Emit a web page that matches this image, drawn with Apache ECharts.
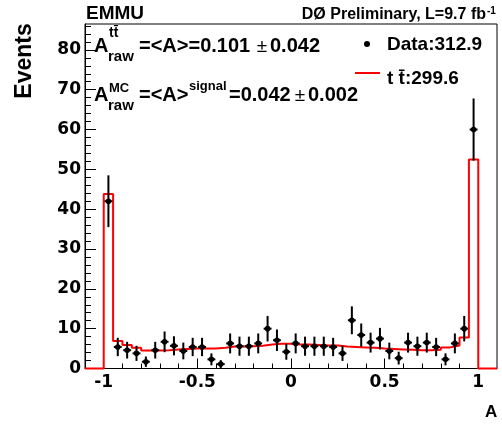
<!DOCTYPE html>
<html><head><meta charset="utf-8">
<script src="https://cdn.jsdelivr.net/npm/echarts@6/dist/echarts.min.js"></script>
<style>html,body{margin:0;padding:0;background:#fff}#c{width:502px;height:425px}</style>
</head><body><div id="c"></div>
<script>
// ---- data ----
const histMin = -1.1, histMax = 1.1;          // axis range
const binLowEdge = -1.0, binWidth = 0.05;      // 40 bins from -1 to 1
const dataValues = [42.0, 5.4, 4.6, 3.8, 1.7, 4.6, 6.7, 5.7, 4.4, 5.4,
                    5.4, 2.3, 1.1, 6.3, 5.6, 5.6, 6.3, 10.0, 7.1, 4.2,
                    6.3, 5.6, 5.6, 5.6, 5.4, 3.8, 12.1, 8.4, 6.5, 7.5,
                    4.4, 2.6, 6.5, 5.6, 6.5, 5.4, 2.3, 6.3, 10.0, 60.0];
const dataErrors = [6.5, 2.3, 2.1, 1.9, 1.3, 2.1, 2.6, 2.4, 2.1, 2.3,
                    2.3, 1.5, 1.0, 2.5, 2.4, 2.4, 2.5, 3.2, 2.7, 2.0,
                    2.5, 2.4, 2.4, 2.4, 2.3, 1.9, 3.5, 2.9, 2.5, 2.7,
                    2.1, 1.6, 2.5, 2.4, 2.5, 2.3, 1.5, 2.5, 3.2, 7.8];
const mcValues = [43.8, 6.9, 5.9, 5.2, 4.5, 4.5, 4.6, 4.8, 4.9, 5.0,
                  5.0, 5.0, 5.2, 5.5, 5.5, 5.6, 5.7, 6.0, 6.2, 6.2,
                  6.0, 6.0, 5.9, 5.8, 5.8, 5.5, 5.4, 5.3, 5.2, 5.0,
                  4.9, 4.8, 4.7, 4.6, 4.6, 4.7, 5.3, 5.8, 7.8, 52.5];
const xErrHalf = 0.021;
const xMajorTicks = [-1, -0.5, 0, 0.5, 1];
const xMinorTicks = [-0.9, -0.8, -0.7, -0.6, -0.4, -0.3, -0.2, -0.1, 0.1, 0.2, 0.3, 0.4, 0.6, 0.7, 0.8, 0.9];
const yMin = 0, yMax = 86.5;
const yMajorTicks = [0, 10, 20, 30, 40, 50, 60, 70, 80];
const yMinorTicks = [2, 4, 6, 8, 12, 14, 16, 18, 22, 24, 26, 28, 32, 34, 36, 38, 42, 44, 46, 48,
                     52, 54, 56, 58, 62, 64, 66, 68, 72, 74, 76, 78, 82, 84, 86];

// ---- build library inputs ----
const pointData = dataValues.map((v, i) => [binLowEdge + (i + 0.5) * binWidth, v, dataErrors[i]]);
const stepData = [[histMin, 0]];
mcValues.forEach((v, i) => stepData.push([binLowEdge + i * binWidth, v]));
stepData.push([binLowEdge + mcValues.length * binWidth, 0]);
stepData.push([histMax, 0]);

const LIB = '"Liberation Sans", Arial, sans-serif';
const DJV = '"DejaVu Sans", sans-serif';
const chart = echarts.init(document.getElementById('c'), null, {renderer: 'canvas'});

function txt(x, y, text, size, opts) {
  opts = opts || {};
  return {type: 'text', x: x, y: y, z: 100,
    style: {text: text, fill: '#000', align: opts.align || 'left', verticalAlign: 'middle',
      font: (opts.weight || 'bold') + ' ' + size + 'px ' + (opts.family || LIB)}};
}

chart.setOption({
  animation: false,
  grid: {left: 85, right: 5, top: 24, bottom: 56.5, show: true, borderColor: '#000', borderWidth: 1, backgroundColor: 'transparent'},
  xAxis: [{
    type: 'value', min: histMin, max: histMax, position: 'bottom',
    axisLine: {show: true, onZero: false, lineStyle: {color: '#000', width: 1}},
    axisTick: {show: true, inside: true, length: 10, customValues: xMajorTicks, lineStyle: {color: '#000'}},
    axisLabel: {show: true, customValues: xMajorTicks, margin: 6, color: '#000', fontFamily: DJV, fontWeight: 'bold', fontSize: 17,
      formatter: v => String(v)},
    splitLine: {show: false}
  }, {
    type: 'value', min: histMin, max: histMax, position: 'bottom',
    axisLine: {show: false, onZero: false},
    axisTick: {show: true, inside: true, length: 5, customValues: xMinorTicks, lineStyle: {color: '#000'}},
    axisLabel: {show: false}, splitLine: {show: false}
  }],
  yAxis: [{
    type: 'value', min: yMin, max: yMax, position: 'left',
    axisLine: {show: true, onZero: false, lineStyle: {color: '#000', width: 1}},
    axisTick: {show: true, inside: true, length: 11, customValues: yMajorTicks, lineStyle: {color: '#000'}},
    axisLabel: {show: true, customValues: yMajorTicks, margin: 4, color: '#000', fontFamily: DJV, fontWeight: 'bold', fontSize: 17},
    splitLine: {show: false}
  }, {
    type: 'value', min: yMin, max: yMax, position: 'left',
    axisLine: {show: false, onZero: false},
    axisTick: {show: true, inside: true, length: 6, customValues: yMinorTicks, lineStyle: {color: '#000'}},
    axisLabel: {show: false}, splitLine: {show: false}
  }],
  series: [{
    type: 'line', name: 'ttbar', data: stepData, step: 'end', symbol: 'none', clip: false,
    xAxisIndex: 0, yAxisIndex: 0, z: 2,
    lineStyle: {color: '#ff0000', width: 2}
  }, {
    type: 'custom', name: 'Data', data: pointData, xAxisIndex: 0, yAxisIndex: 0, z: 5,
    encode: {x: 0, y: 1},
    renderItem: function (params, api) {
      const x = api.value(0), y = api.value(1), e = api.value(2);
      const c = api.coord([x, y]);
      const t = api.coord([x, y + e]);
      const b = api.coord([x, Math.max(y - e, 0)]);
      const l = api.coord([x - xErrHalf, y]);
      const r = api.coord([x + xErrHalf, y]);
      const st = {stroke: '#000', lineWidth: 2};
      return {type: 'group', children: [
        {type: 'line', shape: {x1: c[0], y1: t[1], x2: c[0], y2: b[1]}, style: st},
        {type: 'line', shape: {x1: l[0], y1: c[1], x2: r[0], y2: c[1]}, style: st},
        {type: 'circle', shape: {cx: c[0], cy: c[1], r: 2.8}, style: {fill: '#000'}}
      ]};
    }
  }],
  graphic: [
    txt(86, 14, 'EMMU', 19),
    txt(486, 14.5, 'D\u00D8 Preliminary, L=9.7 fb', 16, {align: 'right'}),
    txt(487, 11, '-1', 10),
    {type: 'text', x: 25, y: 61, rotation: Math.PI / 2, z: 100,
      style: {text: 'Events', fill: '#000', align: 'center', verticalAlign: 'middle', font: 'bold 23px ' + LIB}},
    txt(485, 412.5, 'A', 17),
    // formula line 1
    txt(94, 46.5, 'A', 20),
    txt(109, 33, 'tt\u0304', 14),
    txt(108, 57, 'raw', 15),
    txt(139, 46.5, '=<A>=0.101', 20),
    txt(262, 46.5, '\u00B1', 19, {align: 'center', weight: 'normal'}),
    txt(270, 46.5, '0.042', 20),
    // formula line 2
    txt(94, 95.5, 'A', 20),
    txt(109, 88.5, 'MC', 13),
    txt(108, 106, 'raw', 15),
    txt(139, 95.5, '=<A>', 20),
    txt(189, 86, 'signal', 13),
    txt(229, 95.5, '=0.042', 20),
    txt(300, 95.5, '\u00B1', 19, {align: 'center', weight: 'normal'}),
    txt(308, 95.5, '0.002', 20),
    // legend
    {type: 'circle', shape: {cx: 367, cy: 44, r: 3}, style: {fill: '#000'}, z: 100},
    txt(387, 45, 'Data:312.9', 19),
    {type: 'line', shape: {x1: 355, y1: 73, x2: 380, y2: 73}, style: {stroke: '#ff0000', lineWidth: 2}, z: 100},
    txt(387, 79, 't t\u0304:299.6', 19)
  ]
});
</script></body></html>
